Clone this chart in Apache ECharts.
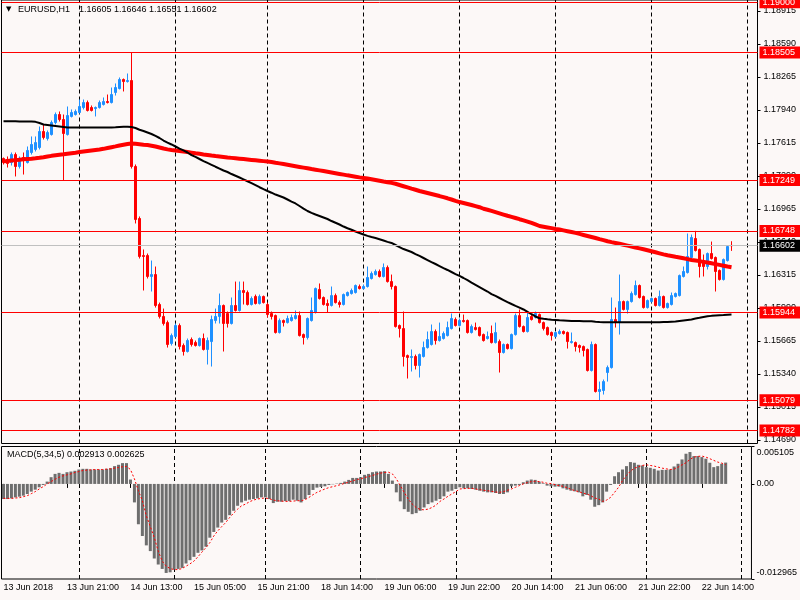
<!DOCTYPE html>
<html><head><meta charset="utf-8">
<script src="https://cdn.jsdelivr.net/npm/echarts@6/dist/echarts.min.js"></script>
<style>html,body{margin:0;padding:0;background:#fcf8f7}#c{width:800px;height:600px}</style>
</head><body><div id="c"></div>
<script>
const symbolName = 'EURUSD,H1';
const opens = [1.17461,1.17451,1.17421,1.17500,1.17382,1.17471,1.17421,1.17520,1.17550,1.17569,
1.17727,1.17658,1.17697,1.17815,1.17894,1.17845,1.17697,1.17875,1.17894,1.17914,
1.17963,1.18012,1.17963,1.17953,1.17963,1.17993,1.18022,1.18012,1.18111,1.18150,
1.18239,1.18219,1.18229,1.17382,1.16870,1.16505,1.16505,1.16299,1.16318,1.16023,
1.15905,1.15845,1.15639,1.15708,1.15816,1.15619,1.15560,1.15678,1.15648,1.15619,
1.15688,1.15580,1.15658,1.15865,1.15905,1.16013,1.15934,1.15836,1.16013,1.15964,
1.16161,1.16141,1.16023,1.16102,1.16033,1.16102,1.16023,1.15934,1.15914,1.15747,
1.15865,1.15845,1.15865,1.15885,1.15914,1.15727,1.15698,1.15865,1.15944,1.16171,
1.16092,1.16033,1.16013,1.16111,1.16042,1.16023,1.16111,1.16131,1.16141,1.16200,
1.16180,1.16200,1.16279,1.16318,1.16348,1.16299,1.16387,1.16249,1.16200,1.15816,
1.15786,1.15520,1.15501,1.15511,1.15422,1.15511,1.15599,1.15629,1.15757,1.15668,
1.15688,1.15717,1.15786,1.15875,1.15816,1.15865,1.15865,1.15747,1.15796,1.15796,
1.15727,1.15688,1.15737,1.15648,1.15658,1.15550,1.15629,1.15589,1.15727,1.15914,
1.15806,1.15757,1.15905,1.15895,1.15924,1.15845,1.15796,1.15747,1.15708,1.15737,
1.15757,1.15747,1.15648,1.15648,1.15619,1.15609,1.15580,1.15373,1.15629,1.15166,
1.15176,1.15353,1.15402,1.15875,1.15845,1.16052,1.15974,1.16052,1.16121,1.16210,
1.16102,1.15993,1.16052,1.16082,1.16013,1.16102,1.15993,1.16023,1.16102,1.16111,
1.16299,1.16338,1.16486,1.16673,1.16565,1.16456,1.16397,1.16525,1.16486,1.16358,
1.16269,1.16456,1.16605];
const closes = [1.17421,1.17412,1.17500,1.17382,1.17461,1.17451,1.17540,1.17599,1.17618,1.17727,
1.17668,1.17717,1.17815,1.17894,1.17845,1.17707,1.17884,1.17914,1.17924,1.17973,
1.18012,1.17934,1.17934,1.17963,1.18012,1.18022,1.18012,1.18091,1.18160,1.18239,
1.18219,1.18229,1.17382,1.16860,1.16496,1.16496,1.16299,1.16318,1.16013,1.15905,
1.15836,1.15629,1.15717,1.15816,1.15609,1.15560,1.15668,1.15629,1.15619,1.15688,
1.15580,1.15668,1.15875,1.15905,1.16013,1.15836,1.15836,1.16013,1.15964,1.16161,
1.16141,1.16023,1.16082,1.16033,1.16102,1.16042,1.15924,1.15905,1.15747,1.15865,
1.15845,1.15885,1.15895,1.15914,1.15717,1.15698,1.15885,1.15964,1.16180,1.16082,
1.16023,1.16013,1.16111,1.16042,1.16023,1.16121,1.16141,1.16161,1.16210,1.16180,
1.16200,1.16289,1.16328,1.16348,1.16299,1.16387,1.16249,1.16200,1.15806,1.15786,
1.15511,1.15501,1.15511,1.15422,1.15530,1.15599,1.15678,1.15757,1.15668,1.15708,
1.15737,1.15796,1.15885,1.15816,1.15865,1.15855,1.15747,1.15806,1.15777,1.15717,
1.15668,1.15708,1.15648,1.15747,1.15550,1.15629,1.15589,1.15727,1.15914,1.15806,
1.15757,1.15895,1.15875,1.15934,1.15845,1.15786,1.15727,1.15717,1.15747,1.15757,
1.15737,1.15658,1.15658,1.15609,1.15599,1.15570,1.15373,1.15629,1.15166,1.15186,
1.15264,1.15402,1.15875,1.15845,1.16052,1.15974,1.16052,1.16131,1.16210,1.16092,
1.15993,1.16062,1.16082,1.16013,1.16102,1.15993,1.16033,1.16111,1.16131,1.16308,
1.16348,1.16496,1.16683,1.16555,1.16397,1.16397,1.16525,1.16476,1.16348,1.16269,
1.16466,1.16594,1.16602];
const lows = [1.17402,1.17372,1.17392,1.17284,1.17362,1.17303,1.17412,1.17500,1.17530,1.17550,
1.17648,1.17638,1.17687,1.17796,1.17825,1.17244,1.17687,1.17865,1.17884,1.17904,
1.17944,1.17924,1.17924,1.17875,1.17953,1.17983,1.18003,1.18003,1.18081,1.18141,
1.18121,1.18209,1.17362,1.16821,1.16476,1.16161,1.16279,1.16151,1.15993,1.15885,
1.15816,1.15599,1.15619,1.15698,1.15580,1.15520,1.15550,1.15609,1.15609,1.15609,
1.15570,1.15432,1.15412,1.15836,1.15836,1.15560,1.15796,1.15826,1.15954,1.15954,
1.16023,1.16013,1.16013,1.16023,1.16023,1.16033,1.15895,1.15875,1.15737,1.15737,
1.15806,1.15836,1.15855,1.15875,1.15708,1.15629,1.15678,1.15855,1.15934,1.16072,
1.16013,1.15944,1.16003,1.16033,1.15993,1.16013,1.16102,1.16121,1.16131,1.16171,
1.16171,1.16190,1.16269,1.16308,1.16289,1.16289,1.16239,1.16171,1.15796,1.15698,
1.15412,1.15294,1.15363,1.15383,1.15304,1.15501,1.15589,1.15619,1.15629,1.15658,
1.15678,1.15708,1.15777,1.15806,1.15806,1.15845,1.15737,1.15737,1.15767,1.15708,
1.15658,1.15678,1.15639,1.15639,1.15353,1.15540,1.15580,1.15580,1.15717,1.15796,
1.15747,1.15747,1.15865,1.15885,1.15836,1.15767,1.15717,1.15668,1.15698,1.15727,
1.15727,1.15589,1.15639,1.15560,1.15550,1.15511,1.15363,1.15363,1.15156,1.15079,
1.15136,1.15264,1.15392,1.15796,1.15727,1.15964,1.15934,1.16042,1.16111,1.16082,
1.15983,1.15983,1.16042,1.16003,1.16003,1.15983,1.15983,1.16013,1.16092,1.16102,
1.16289,1.16328,1.16476,1.16545,1.16289,1.16299,1.16368,1.16466,1.16151,1.16259,
1.16259,1.16446,1.16551];
const highs = [1.17471,1.17481,1.17520,1.17520,1.17481,1.17520,1.17579,1.17678,1.17678,1.17776,
1.17796,1.17737,1.17835,1.17914,1.17924,1.17894,1.17973,1.17944,1.17944,1.18042,
1.18042,1.18032,1.17983,1.17973,1.18032,1.18062,1.18091,1.18160,1.18200,1.18259,
1.18249,1.18298,1.18505,1.17402,1.16890,1.16565,1.16525,1.16456,1.16397,1.16042,
1.15983,1.15865,1.15737,1.15836,1.15836,1.15639,1.15688,1.15698,1.15668,1.15698,
1.15737,1.15698,1.15914,1.15983,1.16131,1.16023,1.15954,1.16092,1.16249,1.16249,
1.16249,1.16161,1.16102,1.16121,1.16121,1.16111,1.16042,1.15954,1.15924,1.15885,
1.15875,1.15914,1.15924,1.15964,1.15954,1.15737,1.15895,1.16092,1.16190,1.16230,
1.16102,1.16072,1.16200,1.16131,1.16062,1.16131,1.16151,1.16180,1.16220,1.16220,
1.16220,1.16397,1.16348,1.16368,1.16368,1.16427,1.16407,1.16318,1.16210,1.15826,
1.15954,1.15530,1.15580,1.15530,1.15540,1.15658,1.15757,1.15826,1.15777,1.15845,
1.15757,1.15855,1.15934,1.15895,1.15885,1.15924,1.15875,1.15826,1.15845,1.15806,
1.15737,1.15757,1.15816,1.15845,1.15678,1.15639,1.15639,1.15737,1.15934,1.15974,
1.15816,1.15944,1.15924,1.15954,1.15934,1.15855,1.15806,1.15757,1.15757,1.15777,
1.15767,1.15757,1.15747,1.15658,1.15629,1.15619,1.15589,1.15658,1.15639,1.15264,
1.15284,1.15422,1.16092,1.15993,1.16318,1.16062,1.16062,1.16151,1.16259,1.16220,
1.16111,1.16072,1.16092,1.16092,1.16161,1.16111,1.16042,1.16141,1.16141,1.16318,
1.16397,1.16722,1.16712,1.16748,1.16574,1.16515,1.16535,1.16643,1.16496,1.16368,
1.16476,1.16604,1.16646];
const maBlack = [1.17828,1.17828,1.17827,1.17827,1.17826,1.17826,1.17825,1.17825,1.17822,1.17811,
1.17796,1.17791,1.17786,1.17781,1.17776,1.17771,1.17766,1.17766,1.17766,1.17766,
1.17766,1.17766,1.17766,1.17766,1.17766,1.17766,1.17766,1.17766,1.17768,1.17771,
1.17773,1.17773,1.17771,1.17761,1.17744,1.17732,1.17717,1.17702,1.17683,1.17663,
1.17638,1.17618,1.17599,1.17579,1.17559,1.17540,1.17520,1.17495,1.17476,1.17456,
1.17436,1.17417,1.17399,1.17380,1.17362,1.17343,1.17328,1.17308,1.17291,1.17274,
1.17256,1.17237,1.17218,1.17198,1.17178,1.17159,1.17141,1.17124,1.17106,1.17092,
1.17077,1.17057,1.17037,1.17018,1.16993,1.16968,1.16944,1.16926,1.16909,1.16895,
1.16880,1.16865,1.16845,1.16828,1.16811,1.16791,1.16774,1.16759,1.16742,1.16727,
1.16712,1.16699,1.16688,1.16678,1.16666,1.16653,1.16640,1.16629,1.16609,1.16589,
1.16569,1.16555,1.16540,1.16520,1.16501,1.16481,1.16461,1.16441,1.16422,1.16402,
1.16382,1.16363,1.16343,1.16323,1.16304,1.16284,1.16262,1.16239,1.16217,1.16195,
1.16173,1.16151,1.16126,1.16107,1.16087,1.16067,1.16047,1.16028,1.16010,1.15993,
1.15974,1.15951,1.15927,1.15905,1.15888,1.15882,1.15877,1.15873,1.15870,1.15867,
1.15865,1.15863,1.15861,1.15860,1.15860,1.15859,1.15858,1.15857,1.15853,1.15850,
1.15848,1.15848,1.15848,1.15848,1.15848,1.15848,1.15848,1.15848,1.15848,1.15848,
1.15848,1.15848,1.15848,1.15848,1.15848,1.15850,1.15850,1.15853,1.15855,1.15860,
1.15865,1.15870,1.15875,1.15885,1.15892,1.15900,1.15907,1.15911,1.15914,1.15917,
1.15919,1.15922,1.15924];
const maRed = [1.17433,1.17436,1.17441,1.17445,1.17449,1.17453,1.17456,1.17459,1.17463,1.17468,
1.17474,1.17481,1.17487,1.17492,1.17497,1.17502,1.17508,1.17513,1.17518,1.17524,
1.17530,1.17535,1.17540,1.17545,1.17550,1.17556,1.17564,1.17572,1.17580,1.17589,
1.17596,1.17603,1.17609,1.17607,1.17602,1.17597,1.17593,1.17587,1.17579,1.17569,
1.17559,1.17551,1.17545,1.17540,1.17535,1.17530,1.17524,1.17518,1.17512,1.17507,
1.17501,1.17496,1.17490,1.17485,1.17481,1.17476,1.17471,1.17467,1.17463,1.17459,
1.17455,1.17451,1.17447,1.17443,1.17439,1.17435,1.17431,1.17426,1.17419,1.17413,
1.17406,1.17399,1.17392,1.17385,1.17378,1.17371,1.17364,1.17357,1.17351,1.17344,
1.17337,1.17330,1.17323,1.17316,1.17309,1.17302,1.17295,1.17289,1.17282,1.17275,
1.17269,1.17263,1.17257,1.17250,1.17242,1.17234,1.17227,1.17221,1.17212,1.17200,
1.17188,1.17176,1.17164,1.17153,1.17141,1.17131,1.17121,1.17111,1.17101,1.17091,
1.17080,1.17069,1.17057,1.17044,1.17032,1.17023,1.17013,1.17003,1.16992,1.16981,
1.16966,1.16956,1.16945,1.16933,1.16921,1.16909,1.16897,1.16886,1.16875,1.16863,
1.16852,1.16840,1.16827,1.16812,1.16796,1.16789,1.16782,1.16775,1.16767,1.16761,
1.16753,1.16745,1.16737,1.16728,1.16718,1.16708,1.16698,1.16688,1.16678,1.16667,
1.16657,1.16646,1.16637,1.16629,1.16621,1.16612,1.16603,1.16594,1.16584,1.16576,
1.16567,1.16557,1.16547,1.16537,1.16527,1.16517,1.16508,1.16501,1.16493,1.16486,
1.16478,1.16470,1.16462,1.16456,1.16450,1.16443,1.16436,1.16429,1.16421,1.16413,
1.16405,1.16397,1.16390];
const macdHist = [-0.00206,-0.00206,-0.00197,-0.00183,-0.00174,-0.00160,-0.00137,-0.00105,-0.00078,-0.00046,
-0.00014,0.00032,0.00092,0.00137,0.00151,0.00137,0.00160,0.00169,0.00179,0.00197,
0.00206,0.00206,0.00197,0.00197,0.00197,0.00197,0.00206,0.00215,0.00243,0.00261,
0.00284,0.00284,0.00060,-0.00252,-0.00550,-0.00710,-0.00838,-0.00916,-0.01017,-0.01099,
-0.01159,-0.01214,-0.01205,-0.01168,-0.01159,-0.01145,-0.01085,-0.01040,-0.00994,-0.00939,
-0.00907,-0.00856,-0.00733,-0.00655,-0.00595,-0.00527,-0.00490,-0.00426,-0.00366,-0.00298,
-0.00252,-0.00229,-0.00215,-0.00206,-0.00197,-0.00183,-0.00183,-0.00206,-0.00261,-0.00243,
-0.00243,-0.00234,-0.00234,-0.00215,-0.00229,-0.00252,-0.00206,-0.00151,-0.00082,-0.00050,
-0.00041,-0.00032,-0.00014,-0.00005,0.00005,0.00014,0.00032,0.00055,0.00082,0.00082,
0.00092,0.00124,0.00137,0.00160,0.00169,0.00169,0.00174,0.00137,0.00046,-0.00115,
-0.00238,-0.00344,-0.00380,-0.00412,-0.00398,-0.00366,-0.00321,-0.00275,-0.00252,-0.00229,
-0.00206,-0.00169,-0.00105,-0.00092,-0.00069,-0.00046,-0.00060,-0.00060,-0.00069,-0.00078,
-0.00092,-0.00105,-0.00115,-0.00115,-0.00124,-0.00137,-0.00137,-0.00115,-0.00032,-0.00023,
-0.00014,0.00023,0.00046,0.00060,0.00055,0.00032,0.00009,-0.00023,-0.00032,-0.00037,
-0.00037,-0.00060,-0.00078,-0.00092,-0.00101,-0.00115,-0.00169,-0.00151,-0.00215,-0.00311,
-0.00289,-0.00252,-0.00105,-0.00014,0.00105,0.00160,0.00197,0.00243,0.00298,0.00289,
0.00261,0.00252,0.00229,0.00220,0.00206,0.00183,0.00192,0.00192,0.00197,0.00238,
0.00275,0.00334,0.00412,0.00435,0.00380,0.00380,0.00366,0.00344,0.00289,0.00229,
0.00243,0.00275,0.002913];
const macdSignal = [-0.00197,-0.00197,-0.00197,-0.00192,-0.00188,-0.00174,-0.00160,-0.00133,-0.00105,-0.00069,
-0.00037,0.00000,0.00032,0.00064,0.00092,0.00110,0.00124,0.00137,0.00156,0.00169,
0.00183,0.00188,0.00192,0.00197,0.00197,0.00197,0.00202,0.00206,0.00215,0.00224,
0.00234,0.00238,0.00197,0.00069,-0.00092,-0.00229,-0.00435,-0.00582,-0.00733,-0.00916,
-0.01053,-0.01122,-0.01154,-0.01168,-0.01168,-0.01154,-0.01122,-0.01090,-0.01053,-0.00994,
-0.00930,-0.00870,-0.00802,-0.00710,-0.00641,-0.00582,-0.00527,-0.00458,-0.00398,-0.00344,
-0.00298,-0.00275,-0.00243,-0.00220,-0.00206,-0.00197,-0.00192,-0.00202,-0.00220,-0.00229,
-0.00234,-0.00238,-0.00238,-0.00234,-0.00229,-0.00229,-0.00215,-0.00183,-0.00147,-0.00115,
-0.00092,-0.00069,-0.00050,-0.00037,-0.00023,-0.00009,0.00009,0.00023,0.00041,0.00060,
0.00069,0.00087,0.00101,0.00115,0.00133,0.00147,0.00156,0.00160,0.00137,0.00069,
-0.00023,-0.00115,-0.00206,-0.00275,-0.00321,-0.00348,-0.00353,-0.00344,-0.00321,-0.00289,
-0.00238,-0.00206,-0.00169,-0.00137,-0.00105,-0.00069,-0.00064,-0.00060,-0.00060,-0.00069,
-0.00078,-0.00087,-0.00092,-0.00101,-0.00110,-0.00115,-0.00105,-0.00087,-0.00069,-0.00046,
-0.00023,0.00000,0.00018,0.00032,0.00037,0.00032,0.00023,0.00009,0.00005,-0.00009,
-0.00023,-0.00032,-0.00050,-0.00073,-0.00092,-0.00105,-0.00124,-0.00137,-0.00160,-0.00192,
-0.00206,-0.00238,-0.00220,-0.00183,-0.00115,-0.00046,0.00046,0.00115,0.00174,0.00215,
0.00234,0.00252,0.00261,0.00252,0.00243,0.00229,0.00215,0.00206,0.00197,0.00202,
0.00229,0.00261,0.00289,0.00334,0.00366,0.00376,0.00380,0.00366,0.00344,0.00321,
0.00298,0.00284,0.002625];
const priceTicks = [1.14690,1.15015,1.15340,1.15665,1.15990,1.16315,1.16640,1.16965,1.17290,1.17615,1.17940,1.18265,1.18590,1.18915];
const levels = [1.19000,1.18505,1.17249,1.16748,1.15944,1.15079,1.14782];
const bidPrice = 1.16602;
const macdTicks = [-0.012965, 0, 0.005105];
const timeLabels = ['13 Jun 2018','13 Jun 21:00','14 Jun 13:00','15 Jun 05:00','15 Jun 21:00','18 Jun 14:00','19 Jun 06:00','19 Jun 22:00','20 Jun 14:00','21 Jun 06:00','21 Jun 22:00','22 Jun 14:00'];
const timeLabelIdx = [0,16,32,48,64,80,96,112,128,144,160,176];
const daySepIdx = [19,43,66,90,114,138,162,186];
const slotCount = 189;

const FONT = "'Liberation Sans', Arial, sans-serif";
const categories = Array.from({length: slotCount}, (_, i) => String(i));
const labelAt = {};
timeLabelIdx.forEach((k, j) => { labelAt[k] = timeLabels[j]; });
const isLabel = (i) => labelAt[i] !== undefined;
const candleData = opens.map((o, i) => [o, closes[i], lows[i], highs[i]]);
const last = opens.length - 1;

const levelLabel = (v, bg) => ({show: true, position: 'end', distance: 2, formatter: v.toFixed(5), color: '#ffffff',
  backgroundColor: bg, padding: [2, 5, 1, 3], fontSize: 9, fontFamily: FONT});
const levelLines = [{
  yAxis: bidPrice,
  lineStyle: {color: '#c0c0c0', width: 1, type: 'solid'},
  label: levelLabel(bidPrice, '#000000')
}].concat(levels.map(v => ({
  yAxis: v,
  lineStyle: {color: '#ff0000', width: 1, type: 'solid'},
  label: levelLabel(v, '#ff0000')
})));
const sepLines = daySepIdx.map(k => ({xAxis: String(k)}));
const sepMarkLine = {
  silent: true, symbol: 'none', z: 1, animation: false, precision: 5,
  lineStyle: {color: '#000000', width: 1, type: [4, 3]},
  label: {show: false},
  data: sepLines
};

const chart = echarts.init(document.getElementById('c'));
chart.setOption({
  animation: false,
  backgroundColor: '#fcf8f7',
  title: [
    {text: '\u25BC', left: 6, top: 6, padding: 0, textStyle: {fontSize: 7, fontFamily: 'DejaVu Sans', color: '#000', fontWeight: 'normal'}},
    {text: symbolName, left: 18, top: 5, padding: 0, textStyle: {fontSize: 9, fontFamily: FONT, color: '#000', fontWeight: 'normal'}},
    {text: [opens[last], highs[last], lows[last], closes[last]].map(v => v.toFixed(5)).join(' '), left: 79, top: 5, padding: 0,
      textStyle: {fontSize: 9, fontFamily: FONT, color: '#000', fontWeight: 'normal'}},
    {text: 'MACD(5,34,5) ' + macdHist[last].toFixed(6) + ' ' + macdSignal[last].toFixed(6), left: 7, top: 450, padding: 0,
      textStyle: {fontSize: 9, fontFamily: FONT, color: '#000', fontWeight: 'normal'}}
  ],
  grid: [
    {left: 1.5, right: 42.5, top: 0, height: 443.5, show: true, borderColor: '#000', borderWidth: 1, backgroundColor: 'transparent', containLabel: false},
    {left: 1.5, right: 42.5, top: 446.5, height: 132.5, show: true, borderColor: '#000', borderWidth: 1, backgroundColor: 'transparent', containLabel: false}
  ],
  xAxis: [
    {type: 'category', gridIndex: 0, data: categories, boundaryGap: true,
      axisLine: {show: false}, axisTick: {show: false}, axisLabel: {show: false}, splitLine: {show: false}},
    {type: 'category', gridIndex: 1, data: categories, boundaryGap: true,
      axisLine: {show: false},
      axisTick: {show: true, alignWithLabel: true, interval: (i) => isLabel(i), length: 4, lineStyle: {color: '#000'}},
      axisLabel: {show: true, interval: (i) => isLabel(i), formatter: (v, i) => labelAt[i] || '', align: 'left',
        margin: 4, fontSize: 9, fontFamily: FONT, color: '#000', hideOverlap: false},
      splitLine: {show: false}}
  ],
  yAxis: [
    {type: 'value', gridIndex: 0, position: 'right', min: 1.14654, max: 1.19022, scale: true,
      axisLine: {show: false}, splitLine: {show: false},
      axisTick: {show: true, length: 3, customValues: priceTicks, lineStyle: {color: '#000'}},
      axisLabel: {show: true, customValues: priceTicks, formatter: (v) => v.toFixed(5), margin: 6,
        fontSize: 9, fontFamily: FONT, color: '#000'}},
    {type: 'value', gridIndex: 1, position: 'right', min: -0.012965, max: 0.005105,
      axisLine: {show: false}, splitLine: {show: false},
      axisTick: {show: true, length: 3, customValues: macdTicks, lineStyle: {color: '#000'}},
      axisLabel: {show: true, customValues: macdTicks, margin: 5, fontSize: 9, fontFamily: FONT, color: '#000',
        formatter: (v) => v === 0 ? '0.00' : (v > 0 ? '{top|' + v.toFixed(6) + '}' : '{bot|' + v.toFixed(6) + '}'),
        rich: {top: {padding: [13, 0, 0, 0], fontSize: 9, fontFamily: FONT, color: '#000'},
               bot: {padding: [0, 0, 12, 0], fontSize: 9, fontFamily: FONT, color: '#000'}}}}
  ],
  series: [
    {type: 'candlestick', name: 'EURUSD', xAxisIndex: 0, yAxisIndex: 0, data: candleData, barWidth: 2, z: 2,
      itemStyle: {color: '#1e90ff', color0: '#ff0000', borderColor: '#1e90ff', borderColor0: '#ff0000', borderWidth: 1},
      markLine: {silent: true, symbol: 'none', z: 5, animation: false, precision: 5,
        lineStyle: {color: '#ff0000', width: 1, type: 'solid'}, data: levelLines}},
    {type: 'line', name: 'MA red', xAxisIndex: 0, yAxisIndex: 0, data: maRed, showSymbol: false, z: 3,
      lineStyle: {color: '#ff0000', width: 4}, itemStyle: {color: '#ff0000'}},
    {type: 'line', name: 'MA black', xAxisIndex: 0, yAxisIndex: 0, data: maBlack, showSymbol: false, z: 4,
      lineStyle: {color: '#000000', width: 2}, itemStyle: {color: '#000'}, markLine: sepMarkLine},
    {type: 'bar', name: 'MACD', xAxisIndex: 1, yAxisIndex: 1, data: macdHist, barWidth: 3, z: 2,
      itemStyle: {color: '#6e6e6e'}, markLine: sepMarkLine},
    {type: 'line', name: 'Signal', xAxisIndex: 1, yAxisIndex: 1, data: macdSignal, showSymbol: false, z: 3,
      lineStyle: {color: '#ff0000', width: 1, type: [2, 2]}, itemStyle: {color: '#ff0000'}}
  ]
});
</script>
</body></html>
